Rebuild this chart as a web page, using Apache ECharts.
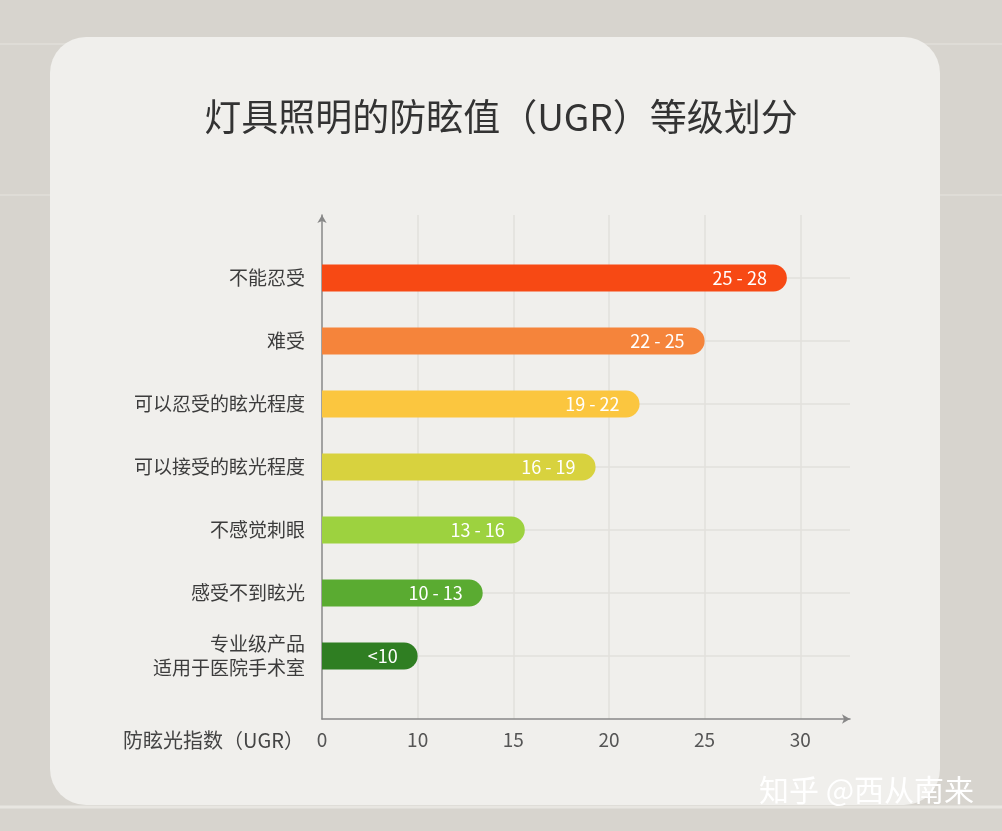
<!DOCTYPE html>
<html lang="zh">
  <head>
    <meta charset="UTF-8" />
    <script src="https://cdn.jsdelivr.net/npm/echarts@6/dist/echarts.min.js"></script>
    <title>UGR</title>
    <style>
      html, body { margin: 0; padding: 0; background: #d7d4ce; }
      #app { width: 1002px; height: 831px; }
    </style>
  </head>
  <body>
    <div id="app"></div>
    <script>
      // 从上到下
      const categories = [
        "不能忍受",
        "难受",
        "可以忍受的眩光程度",
        "可以接受的眩光程度",
        "不感觉刺眼",
        "感受不到眩光",
        "专业级产品\n适用于医院手术室",
      ];
      // 条形末端在图中横轴上的位置（横轴刻度 0,10,15,20,25,30 等距）
      const barEnds = [29.3, 25, 21.6, 19.3, 15.6, 13.4, 10];
      const rangeLabels = ["25 - 28", "22 - 25", "19 - 22", "16 - 19", "13 - 16", "10 - 13", "<10"];
      const barColors = ["#f74914", "#f5843b", "#fbc63f", "#d8d23e", "#9dd23f", "#5aab31", "#2f7e22"];
      const tickLabels = ["0", "10", "15", "20", "25", "30"];

      // 类目轴自下而上，上下各留一个空位
      const yData = [""].concat(categories.slice().reverse(), [""]);
      const seriesData = ["-"].concat(
        barEnds.map((v, i) => ({
          value: v,
          itemStyle: { color: barColors[i] },
          label: { formatter: rangeLabels[i] },
        })).reverse(),
        ["-"]
      );

      const echart = echarts.init(document.getElementById("app"));
      echart.setOption({
        backgroundColor: "#d7d4ce",
        textStyle: { fontFamily: "Noto Sans CJK SC" },
        title: {
          text: "灯具照明的防眩值（UGR）等级划分",
          left: "center",
          top: 93,
          textStyle: { fontSize: 37, fontWeight: "normal", color: "#333" },
        },
        graphic: [
          { type: "line", z: -20, shape: { x1: 0, y1: 44, x2: 1002, y2: 44 }, style: { stroke: "#e6e4df", lineWidth: 1 } },
          { type: "line", z: -20, shape: { x1: 0, y1: 195, x2: 1002, y2: 195 }, style: { stroke: "#e6e4df", lineWidth: 1 } },
          { type: "line", z: -20, shape: { x1: 0, y1: 807, x2: 1002, y2: 807 }, style: { stroke: "#e8e6e1", lineWidth: 3 } },
          {
            type: "rect",
            z: -10,
            shape: { x: 50, y: 37, width: 890, height: 768, r: 36 },
            style: { fill: "#f0efec" },
          },
          {
            type: "text",
            x: 304,
            y: 740,
            style: {
              text: "防眩光指数（UGR）",
              align: "right",
              verticalAlign: "middle",
              fill: "#444",
              fontSize: 20,
              fontFamily: "Noto Sans CJK SC",
            },
          },
          {
            type: "text",
            x: 759,
            y: 790,
            z: 100,
            style: {
              text: "知乎 @西从南来",
              verticalAlign: "middle",
              fill: "#ffffff",
              fontSize: 30,
              fontFamily: "Noto Sans CJK SC",
              shadowColor: "rgba(60,60,60,0.7)",
              shadowOffsetX: 1,
              shadowOffsetY: 2,
              shadowBlur: 3,
            },
          },
        ],
        grid: { left: 322, right: 152, top: 215, bottom: 112 },
        xAxis: {
          type: "value",
          min: 5,
          max: 32.6,
          interval: 5,
          axisLine: {
            show: true,
            lineStyle: { color: "#888", width: 1.5 },
            symbol: ["none", "arrow"],
            symbolSize: [7, 8],
          },
          axisTick: { show: false },
          axisLabel: {
            fontSize: 19,
            color: "#555",
            margin: 11,
            showMaxLabel: false,
            formatter: (v) => (v === 5 ? tickLabels[0] : tickLabels[tickLabels.indexOf(String(v))] || ""),
          },
          splitLine: {
            show: true,
            showMinLine: false,
            showMaxLine: false,
            lineStyle: { color: "#e2e1dd", width: 1.5 },
          },
        },
        yAxis: {
          type: "category",
          data: yData,
          boundaryGap: false,
          axisLine: {
            show: true,
            lineStyle: { color: "#888", width: 1.5 },
            symbol: ["none", "arrow"],
            symbolSize: [7, 8],
          },
          axisTick: { show: false },
          axisLabel: {
            fontSize: 19,
            color: "#3c3c3c",
            margin: 17,
            lineHeight: 24,
            align: "right",
          },
          splitLine: {
            show: true,
            showMinLine: false,
            showMaxLine: false,
            lineStyle: { color: "#e2e1dd", width: 1.5 },
          },
        },
        series: [
          {
            type: "bar",
            data: seriesData,
            barWidth: 27,
            clip: true,
            itemStyle: { borderRadius: [0, 14, 14, 0] },
            label: {
              show: true,
              position: "insideRight",
              distance: 20,
              color: "#fff",
              fontSize: 18,
            },
          },
        ],
      });
    </script>
  </body>
</html>
